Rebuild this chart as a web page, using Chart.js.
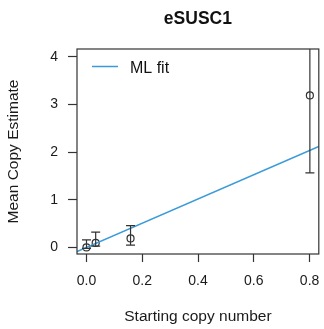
<!DOCTYPE html>
<html>
<head>
<meta charset="utf-8">
<script src="https://cdn.jsdelivr.net/npm/chart.js@4.4.0/dist/chart.umd.min.js"></script>
<style>
  html, body { margin: 0; padding: 0; background: #fff; }
</style>
</head>
<body>
<canvas id="chart" width="324" height="329"></canvas>
<script>
// values
const copyNumber = [0.0, 0.033, 0.158, 0.801];
const meanEstimate = [0.0, 0.095, 0.19, 3.19];
const errLow = [-0.02, 0.03, 0.05, 1.565];
const errHigh = [0.16, 0.32, 0.46, 4.8];
const fitX = [-0.034, 0.833];
const fitY = [-0.088, 2.12];
const xTicks = [0, 0.2, 0.4, 0.6, 0.8];
const yTicks = [0, 1, 2, 3, 4];

const FONT = '"Liberation Sans", Arial, sans-serif';
const INK = '#333';
const FIT_BLUE = '#3b9bd9';

// error bars, frame, title and the in-plot legend
const extras = {
  id: 'extras',
  afterDatasetsDraw(chart) {
    const { ctx, chartArea: a, scales: { x, y } } = chart;

    ctx.save();
    ctx.beginPath();
    ctx.rect(a.left, a.top, a.right - a.left, a.bottom - a.top);
    ctx.clip();
    ctx.strokeStyle = INK;
    ctx.lineWidth = 1.2;
    copyNumber.forEach((v, i) => {
      const px = x.getPixelForValue(v);
      const top = y.getPixelForValue(errHigh[i]);
      const bot = y.getPixelForValue(errLow[i]);
      ctx.beginPath();
      ctx.moveTo(px, top); ctx.lineTo(px, bot);
      ctx.moveTo(px - 4.5, top); ctx.lineTo(px + 4.5, top);
      ctx.moveTo(px - 4.5, bot); ctx.lineTo(px + 4.5, bot);
      ctx.stroke();
    });
    ctx.restore();

    ctx.save();
    ctx.strokeStyle = INK;
    ctx.lineWidth = 1.2;
    ctx.strokeRect(a.left, a.top, a.right - a.left, a.bottom - a.top);

    ctx.fillStyle = '#111';
    ctx.textAlign = 'center';
    ctx.textBaseline = 'middle';
    ctx.font = 'bold 17.5px ' + FONT;
    ctx.fillText('eSUSC1', (a.left + a.right) / 2, 19);

    // legend
    const ly = a.top + 17.5;
    ctx.strokeStyle = FIT_BLUE;
    ctx.lineWidth = 1.5;
    ctx.beginPath();
    ctx.moveTo(a.left + 15, ly);
    ctx.lineTo(a.left + 41, ly);
    ctx.stroke();
    ctx.textAlign = 'left';
    ctx.font = '16px ' + FONT;
    ctx.fillText(chart.data.datasets[0].label, a.left + 53, ly + 2);
    ctx.restore();
  }
};

new Chart(document.getElementById('chart'), {
  data: {
    datasets: [
      {
        type: 'line',
        label: 'ML fit',
        data: fitX.map((v, i) => ({ x: v, y: fitY[i] })),
        borderColor: FIT_BLUE,
        borderWidth: 1.5,
        pointRadius: 0,
        fill: false
      },
      {
        type: 'scatter',
        label: 'estimate',
        data: copyNumber.map((v, i) => ({ x: v, y: meanEstimate[i] })),
        pointStyle: 'circle',
        pointRadius: 3.5,
        borderWidth: 1.2,
        borderColor: INK,
        backgroundColor: 'rgba(0,0,0,0)'
      }
    ]
  },
  options: {
    responsive: false,
    animation: false,
    layout: { padding: { top: 49, right: 3, left: 0, bottom: 0 } },
    plugins: {
      legend: { display: false },
      tooltip: { enabled: false }
    },
    scales: {
      x: {
        type: 'linear',
        min: -0.034,
        max: 0.833,
        afterBuildTicks: s => { s.ticks = xTicks.map(v => ({ value: v })); },
        afterFit: s => { s.height = 75; s.paddingLeft = 0; s.paddingRight = 0; },
        border: { display: false },
        grid: { drawOnChartArea: false, drawTicks: true, tickLength: 8, tickColor: INK, tickWidth: 1.2 },
        ticks: {
          padding: 11,
          color: '#1a1a1a',
          font: { family: FONT, size: 14 },
          callback: v => v.toFixed(1)
        },
        title: {
          display: true,
          text: 'Starting copy number',
          color: '#1a1a1a',
          font: { family: FONT, size: 15.5 },
          padding: { top: 0, bottom: 3 }
        }
      },
      y: {
        type: 'linear',
        min: -0.137,
        max: 4.164,
        afterBuildTicks: s => { s.ticks = yTicks.map(v => ({ value: v })); },
        afterFit: s => { s.width = 77; s.paddingTop = 0; s.paddingBottom = 0; },
        border: { display: false },
        grid: { drawOnChartArea: false, drawTicks: true, tickLength: 9, tickColor: INK, tickWidth: 1.2 },
        ticks: {
          padding: 10,
          color: '#1a1a1a',
          font: { family: FONT, size: 14 },
          callback: v => String(v)
        },
        title: {
          display: true,
          text: 'Mean Copy Estimate',
          color: '#1a1a1a',
          font: { family: FONT, size: 15.5 },
          padding: { top: 4.5, bottom: 0 }
        }
      }
    }
  },
  plugins: [extras]
});
</script>
</body>
</html>
